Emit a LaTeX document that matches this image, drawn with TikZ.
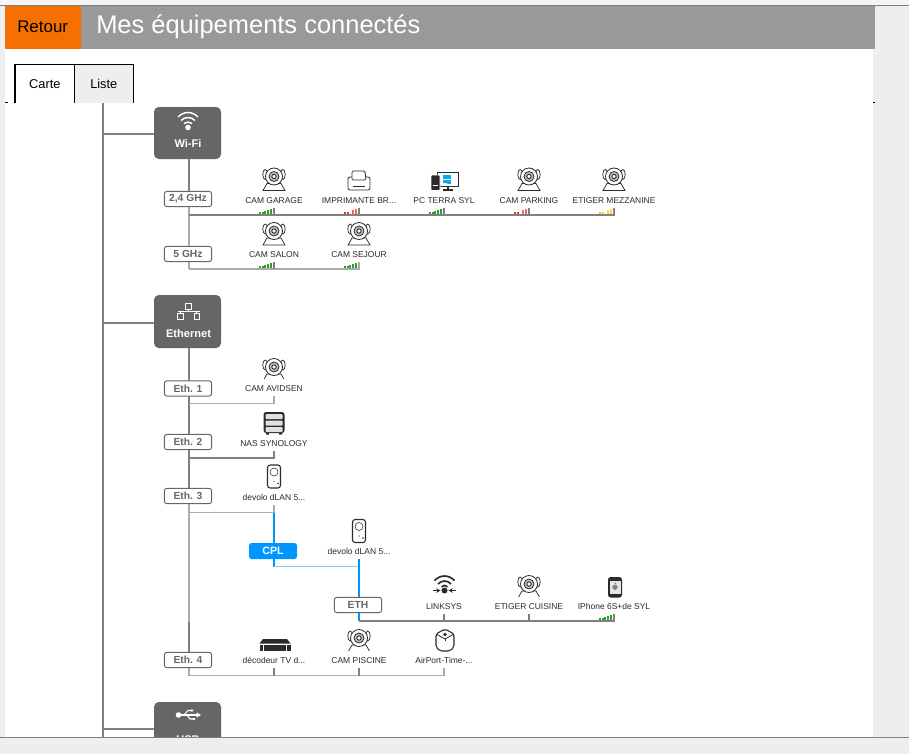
\documentclass[tikz,border=0pt]{standalone}
\usepackage{fontspec}
\usetikzlibrary{arrows.meta}
\setmainfont{Liberation Sans}
\definecolor{hdr}{HTML}{999999}
\definecolor{orng}{HTML}{F57000}
\definecolor{boxg}{HTML}{666666}
\definecolor{tabg}{HTML}{EEEEEE}
\definecolor{lineg}{HTML}{808080}
\definecolor{linel}{HTML}{ABABAB}
\definecolor{cpl}{HTML}{0096FF}
\definecolor{cpll}{HTML}{7FCBFF}
\definecolor{sgreen}{HTML}{2E9E2E}
\definecolor{sred}{HTML}{D8391B}
\definecolor{syell}{HTML}{F2C811}
\definecolor{ink}{HTML}{2B2B2B}
\definecolor{stripb}{HTML}{F0EDED}
\definecolor{winb}{HTML}{00ADEF}
\newcommand{\fs}[1]{\fontsize{#1}{#1}\selectfont}
\tikzset{
  x=0.75pt,y=-0.75pt,
  groupbox/.style={fill=boxg,rounded corners=3.6pt,minimum width=50.25pt,inner sep=0pt,outer sep=0pt},
  grouplabel/.style={text=white,font=\fs{8.3}\bfseries,inner sep=0pt},
  portbox/.style={draw=boxg,line width=0.75pt,fill=white,rounded corners=2pt,minimum width=35.5pt,minimum height=11.5pt,inner sep=0pt,outer sep=0pt,text=boxg,font=\fs{7.7}\bfseries},
  cplbox/.style={fill=cpl,rounded corners=2pt,minimum width=36pt,minimum height=12pt,inner sep=0pt,outer sep=0pt,text=white,font=\fs{8}\bfseries},
  devlabel/.style={minimum height=10.5pt,minimum width=20pt,inner sep=0pt,outer sep=0pt,text=ink,font=\fs{6.35},yshift=-0.5pt},
  tabbox/.style={minimum width=44.25pt,minimum height=28.5pt,inner sep=0pt,text=black,font=\fs{9.6}},
  tabline/.style={draw=black,line width=0.9pt},
  trunk/.style={draw=lineg,line width=1.15pt},
  bus/.style={draw=lineg,line width=1.1pt},
  lbus/.style={draw=linel,line width=0.9pt},
  lbusw/.style={draw=linel,line width=1.1pt},
  blue/.style={draw=cpl,line width=1pt},
  lblue/.style={draw=cpll,line width=0.9pt},
  cam/.pic={
    \draw[ink,line width=0.55pt,fill=white] (-11,14) -- (-7,7) -- (7,7) -- (11,14) -- cycle;
    \draw[ink,line width=0.55pt,fill=white] (-8.8,-2) ellipse[x radius=2.4,y radius=5];
    \draw[ink,line width=0.55pt,fill=white] (8.8,-2) ellipse[x radius=2.4,y radius=5];
    \draw[ink,line width=0.6pt,fill=white] (0,0) circle[radius=8.5];
    \draw[ink,line width=0.6pt,fill=lightgray] (0,0) circle[radius=5];
    \draw[ink,line width=0.7pt,fill=white] (0,0) circle[radius=2.2];
  },
  printer/.pic={
    \draw[ink,line width=0.6pt,fill=white,rounded corners=1.5pt] (-11,-5) rectangle (11,8);
    \draw[ink,line width=0.6pt,fill=white,rounded corners=1pt] (-7,-11) -- (6,-11) -- (7,-2) -- (-7,-2) -- cycle;
    \draw[ink,line width=0.4pt] (-6,4) -- (6,4);
  },
  pcicon/.pic={
    \draw[ink,line width=0.6pt,fill=white] (-7,-9) rectangle (14,5);
    \fill[winb] (-1,-5.6) rectangle (2.6,-1.9);
    \fill[winb] (3.4,-6.4) rectangle (7,-1.9);
    \fill[winb] (-1,-1.1) rectangle (2.6,2.2);
    \fill[winb] (3.4,-1.1) rectangle (7,3);
    \draw[white,line width=0.5pt,fill=ink,rounded corners=0.6pt] (-13,-6) rectangle (-4,9.5);
    \fill[white] (-11,4) rectangle (-6,5);
    \draw[ink,line width=1pt] (4,5) -- (4,8.5);
    \draw[ink,line width=1pt] (-1,9) -- (9,9);
  },
  nas/.pic={
    \fill[ink,rounded corners=2pt] (-10.5,-11) rectangle (10.5,10);
    \fill[ink] (-8,10) rectangle (-5,11.5) (5,10) rectangle (8,11.5);
    \foreach \a in {-8.8,-2.4,4}{\fill[white!88!black,rounded corners=0.6pt] (-8.5,\a) rectangle (8.5,\a+5);}
  },
  plug/.pic={
    \draw[ink,line width=0.8pt,fill=white,rounded corners=2pt] (-6.5,-11.5) rectangle (6.5,11.5);
    \draw[ink,line width=0.4pt,fill=white] (0,-4.5) circle[radius=4];
    \fill[ink] (0,5) circle[radius=0.7];
    \fill[ink] (4,7) circle[radius=0.9];
  },
  wlan/.pic={
    \draw[ink,line width=1.25pt] (-10,-5.5) .. controls (-4,-11.5) and (4,-11.5) .. (10,-5.5);
    \draw[ink,line width=1.25pt] (-6.5,-2) .. controls (-3,-6) and (3,-6) .. (6.5,-2);
    \draw[ink,line width=1.25pt] (-3,0.8) .. controls (-1,-1) and (1,-1) .. (3,0.8);
    \fill[ink] (0,4.5) circle[radius=3];
    \draw[ink,line width=0.8pt,-{Stealth[length=3.2pt,width=3.4pt]}] (-11.5,4.5) -- (-4,4.5);
    \draw[ink,line width=0.8pt,-{Stealth[length=3.2pt,width=3.4pt]}] (11.5,4.5) -- (4,4.5);
  },
  phone/.pic={
    \fill[ink,rounded corners=2pt] (-7,-10) rectangle (7,10.5);
    \fill[white!80!gray] (-5.5,-6.5) rectangle (5.5,7);
    \fill[gray] (0,0.2) circle[radius=2.6];
    \fill[gray] (0.4,-3.6) circle[radius=0.9];
  },
  airport/.pic={
    \draw[ink,line width=0.8pt,fill=white,rounded corners=1.5pt] (0,-11) -- (9,-6) -- (9,7) -- (5,11) -- (-5,11) -- (-9,7) -- (-9,-6) -- cycle;
    \draw[ink,line width=0.6pt] (-9,-6) -- (0,-1) -- (9,-6);
    \draw[ink,line width=0.6pt] (0,-1) -- (0,1);
    \fill[ink] (0,-5.5) circle[radius=1.8];
  },
  decoder/.pic={
    \fill[ink] (-15.5,-1.5) -- (-12,-6) -- (12,-6) -- (15.5,-1.5) -- cycle;
    \fill[ink] (-15.5,-0.5) rectangle (15.5,6);
    \fill[white] (-12,-0.5) rectangle (-11,6);
    \fill[white] (11,-0.5) rectangle (12,6);
  },
  wifiicon/.pic={
    \draw[white,line width=1.1pt] (-10,-5) .. controls (-4,-11) and (4,-11) .. (10,-5);
    \draw[white,line width=1.1pt] (-7,-1.5) .. controls (-3,-5.5) and (3,-5.5) .. (7,-1.5);
    \draw[white,line width=1.1pt] (-4,1.5) .. controls (-1.5,-0.5) and (1.5,-0.5) .. (4,1.5);
    \fill[white] (0,5.5) circle[radius=2.8];
  },
  ethicon/.pic={
    \draw[white,line width=0.55pt] (-3,-9) rectangle (3,-3.5);
    \draw[white,line width=0.55pt] (-11,1) rectangle (-5.5,6.5);
    \draw[white,line width=0.55pt] (5.5,1) rectangle (11,6.5);
    \draw[white,line width=0.55pt] (0,-3.5) -- (0,-1.5) (-11,-1.5) -- (11,-1.5) (-8,-1.5) -- (-8,1) (8,-1.5) -- (8,1);
  },
  usbicon/.pic={
    \draw[white,line width=0.9pt] (-9,0) -- (10,0);
    \fill[white] (-9.5,0) circle[radius=2.8];
    \fill[white] (13,0) -- (8.5,-2.6) -- (8.5,2.6) -- cycle;
    \draw[white,line width=0.8pt] (-4,0) -- (0,-4.5) -- (4,-4.5);
    \draw[white,line width=0.8pt] (-1,0) -- (2,4) -- (5,4);
    \fill[white] (4,-4.5) circle[radius=1.3];
    \fill[white] (4.5,2.8) rectangle (7,5.2);
  },
  pics/sig/.style n args={2}{code={
    \foreach \i/\h in {0/1.5,1/2,2/3,3/4,4/5}{
      \pgfmathparse{(#2==1 || \i<2)?100:(\i==2?0:70)}
      \edef\op{\pgfmathresult}
      \fill[#1!\op!white] (\i*2.7,0) rectangle (\i*2.7+2,-\h);
    }
  }},
}
\begin{document}
\begin{tikzpicture}
\useasboundingbox (0,0) rectangle (909,753);
% page
\fill[tabg] (0,0) rectangle (909,753);
\fill[white!96!black] (0,0) rectangle (909,5);
\fill[white] (5,49) rectangle (873,738);
% header
\fill[hdr] (5,5) rectangle (875,49);
\fill[orng] (5,5) rectangle (81,49);
\draw[gray,line width=0.75pt] (0,5.5) -- (909,5.5);
\node[anchor=west,inner sep=0pt,text=black,font=\fs{12.7}] (back) at (17,27) {Retour};
\node[anchor=west,inner sep=0pt,text=white,font=\fs{19.1}] (title) at (96,27) {Mes équipements connectés};
% tabs
\coordinate (tickLa) at (5,102.5);
\coordinate (tickLb) at (8,102.5);
\coordinate (tickRa) at (873,102.5);
\coordinate (tickRb) at (875,102.5);
\draw[black,line width=0.8pt] (tickLa) -- (tickLb) (tickRa) -- (tickRb);
\node[tabbox,fill=white] (carte) at (44.8,84) {\raisebox{-0.8pt}{Carte}};
\node[tabbox,fill=tabg] (liste) at (103.8,84) {\raisebox{-0.8pt}{Liste}};
\draw[tabline] (carte.south west) -- (carte.north west) -- (carte.north east) -- (carte.south east);
\draw[tabline] (liste.north west) -- (liste.north east) -- (liste.south east);

% trunk
\coordinate (t0) at (103,103);
\coordinate (tend) at (103,738);
\coordinate (jw) at (103,134);
\coordinate (je) at (103,323);
\coordinate (ju) at (103,729);
\draw[trunk] (t0) -- (tend);

% group boxes
\node[groupbox,minimum height=39pt] (wifi) at (187.5,133) {};
\node[groupbox,minimum height=39.75pt] (ether) at (187.5,321.5) {};
\node[groupbox,minimum height=39pt] (usb) at (187.5,728) {};
\pic at (188,122) {wifiicon};
\node[grouplabel] (wifil) at (188,143) {Wi-Fi};
\pic at (188.5,312.5) {ethicon};
\node[grouplabel] (etherl) at (188.5,334) {Ethernet};
\pic at (188,715) {usbicon};
\node[grouplabel] (usbl) at (188,740) {USB};
\draw[trunk] (jw) -- (jw -| wifi.west);
\draw[trunk] (je) -- (je -| ether.west);
\draw[trunk] (ju) -- (ju -| usb.west);

% ports
\node[portbox] (p24) at (188,199) {2,4 GHz};
\node[portbox] (p5) at (188,254) {5 GHz};
\node[portbox] (e1) at (188,388.5) {Eth. 1};
\node[portbox] (e2) at (188,442) {Eth. 2};
\node[portbox] (e3) at (188,496) {Eth. 3};
\node[portbox] (e4) at (188,660) {Eth. 4};
\node[cplbox] (cplb) at (273,551) {CPL};
\node[portbox] (eth) at (358,605) {ETH};

% device labels
\node[devlabel] (d1) at (274,200) {CAM GARAGE};
\node[devlabel] (d2) at (359,200) {IMPRIMANTE BR...};
\node[devlabel] (d3) at (444,200) {PC TERRA SYL};
\node[devlabel] (d4) at (529,200) {CAM PARKING};
\node[devlabel] (d5) at (614,200) {ETIGER MEZZANINE};
\node[devlabel] (s1) at (274,254) {CAM SALON};
\node[devlabel] (s2) at (359,254) {CAM SEJOUR};
\node[devlabel] (a1) at (274,388) {CAM AVIDSEN};
\node[devlabel] (a2) at (274,443) {NAS SYNOLOGY};
\node[devlabel] (a3) at (274,497) {devolo dLAN 5...};
\node[devlabel] (c1) at (359,551) {devolo dLAN 5...};
\node[devlabel] (l1) at (444,606) {LINKSYS};
\node[devlabel] (l2) at (529,606) {ETIGER CUISINE};
\node[devlabel] (l3) at (614,606) {IPhone 6S+de SYL};
\node[devlabel] (f1) at (274,660) {décodeur TV d...};
\node[devlabel] (f2) at (359,660) {CAM PISCINE};
\node[devlabel] (f3) at (444,660) {AirPort-Time-...};

% bus corners
\coordinate (b24) at (189,215);
\coordinate (b5) at (189,269);
\coordinate (be1) at (189,403.5);
\coordinate (be2) at (189,458);
\coordinate (be3) at (189,512.5);
\coordinate (be4) at (189,675.5);
\coordinate (bc) at (274,566.5);
\coordinate (bl) at (359,621);
\coordinate (bd) at (189,622);

% stems of the groups, from box to port to port
\draw[trunk] (wifi.south -| b24) -- (p24.north -| b24);
\draw[lbusw] (p24.south -| b24) -- (p5.north -| b24);
\draw[lbusw] (p5.south -| b24) -- (b5);
\draw[trunk] (ether.south -| be1) -- (e1.north -| be1);
\draw[trunk] (e1.south -| be1) -- (e2.north -| be1);
\draw[trunk] (e2.south -| be1) -- (e3.north -| be1);
\draw[lbusw] (e3.south -| be1) -- (bd);
\draw[trunk] (bd) -- (e4.north -| be1);
\draw[lbusw] (e4.south -| be1) -- (be4);

% wifi buses
\draw[bus] (b24) -- (b24 -| d5.south) -- (d5.south);
\foreach \n in {d1,d2,d3,d4}{\draw[bus] (\n.south) -- (\n.south |- b24);}
\draw[lbus] (b5) -- (b5 -| s2.south) -- (s2.south);
\draw[bus] (s1.south) -- (s1.south |- b5);
% ethernet buses
\draw[lbus] (be1) -- (be1 -| a1.south) -- (a1.south);
\draw[bus] (be2) -- (be2 -| a2.south) -- (a2.south);
\draw[lbus] (be3) -- (be3 -| a3.south);
\draw[lbus] (a3.south) -- (a3.south |- be3);
\draw[blue] (a3.south |- be3) -- (a3.south |- cplb.north);
\draw[blue] (a3.south |- cplb.south) -- (bc);
\draw[lblue] (bc) -- (bc -| c1.south);
\draw[blue] (c1.south) -- (c1.south |- eth.north);
\draw[blue] (c1.south |- eth.south) -- (bl);
\draw[bus] (bl) -- (bl -| l3.south) -- (l3.south);
\foreach \n in {l1,l2}{\draw[bus] (\n.south) -- (\n.south |- bl);}
\draw[lbus] (be4) -- (be4 -| f3.south) -- (f3.south);
\foreach \n in {f1,f2}{\draw[bus] (\n.south) -- (\n.south |- be4);}

% icons
\pic at (274,176.5) {cam};
\pic at (359,182) {printer};
\pic at (444,181) {pcicon};
\pic at (529,176.5) {cam};
\pic at (614,176.5) {cam};
\pic at (274,231) {cam};
\pic at (359,231) {cam};
\pic at (274,367) {cam};
\fill[white] (262,379) rectangle (286,383);
\pic at (274,423) {nas};
\pic at (274,476.5) {plug};
\pic at (359,531) {plug};
\pic at (444.5,586) {wlan};
\pic at (529,584) {cam};
\fill[white] (517,597) rectangle (541,601);
\pic at (615,587) {phone};
\pic at (275,645) {decoder};
\pic at (359,638) {cam};
\fill[white] (347,651) rectangle (371,655);
\pic at (445,640) {airport};

% signal bars
\pic at (259,213.5) {sig={sgreen}{1}};
\pic at (344,213.5) {sig={sred}{0}};
\pic at (429,213.5) {sig={sgreen}{1}};
\pic at (514,213.5) {sig={sred}{0}};
\pic at (599,213.5) {sig={syell}{0}};
\pic at (259,267.5) {sig={sgreen}{1}};
\pic at (344,267.5) {sig={sgreen}{1}};
\pic at (599,619.5) {sig={sgreen}{1}};

% bottom strip
\fill[stripb] (0,738) rectangle (909,760);
\draw[gray,line width=0.6pt] (0,737.7) -- (909,737.7);
\fill[tabg] (0,5.9) rectangle (5,737.4);
\end{tikzpicture}
\end{document}
